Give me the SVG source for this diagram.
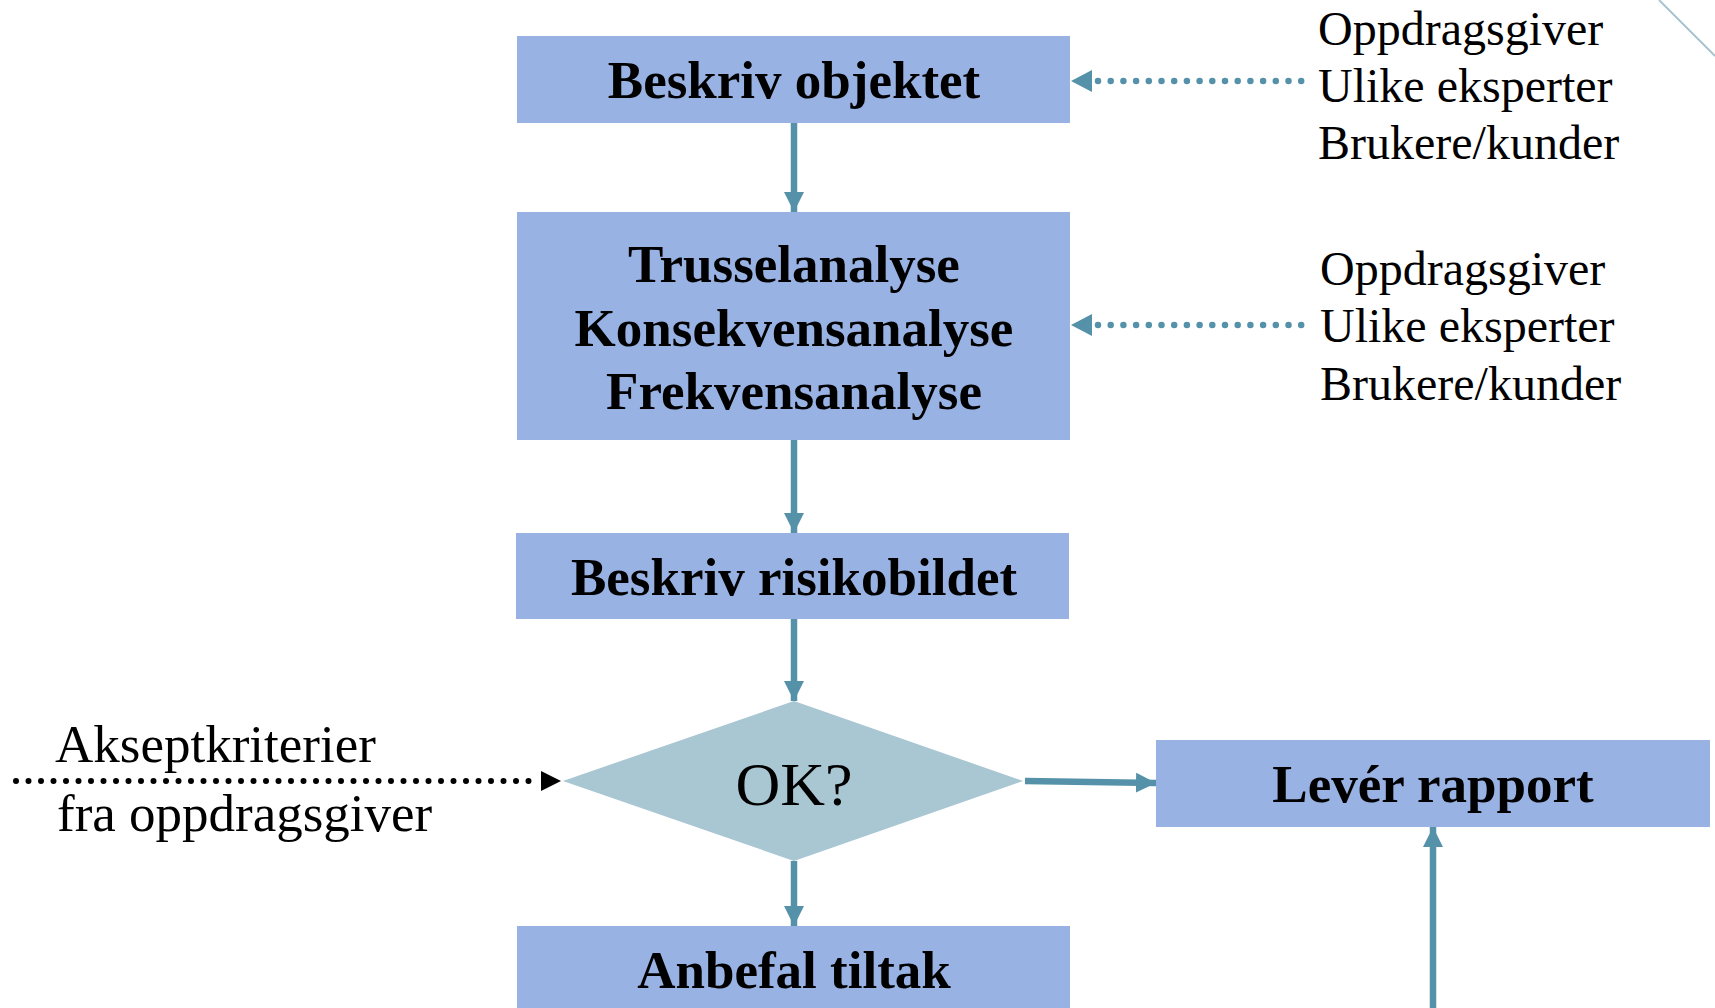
<svg xmlns="http://www.w3.org/2000/svg" width="1715" height="1008" viewBox="0 0 1715 1008">
<style>
.box{fill:#99B2E4;}
.dia{fill:#A9C6D3;}
.bt{font-family:"Liberation Serif","Times New Roman",serif;font-weight:bold;font-size:53px;fill:#000;text-anchor:middle;}
.rt{font-family:"Liberation Serif","Times New Roman",serif;font-size:48px;fill:#000;}
.lt{font-family:"Liberation Serif","Times New Roman",serif;font-size:53px;fill:#000;}
.ok{font-family:"Liberation Serif","Times New Roman",serif;font-size:62px;fill:#000;text-anchor:middle;}
.c{stroke:#5592AA;stroke-width:6.5;fill:none;}
.dot{stroke:#5592AA;stroke-width:6.5;stroke-linecap:round;stroke-dasharray:0 12.7;fill:none;}
.bdot{stroke:#000;stroke-width:6;stroke-linecap:round;stroke-dasharray:0 12.5;fill:none;}
</style>
<defs>
<marker id="ah" markerUnits="userSpaceOnUse" markerWidth="22" markerHeight="22" refX="20" refY="10" orient="auto"><path d="M0,0 L20,10 L0,20 Z" fill="#5592AA"/></marker>
</defs>
<line x1="1659" y1="0" x2="1715" y2="56" stroke="#A9C3CF" stroke-width="2"/>
<g id="n1"><rect class="box" x="517" y="36" width="553" height="87"/><text class="bt" x="794" y="98">Beskriv objektet</text></g>
<g id="n2"><rect class="box" x="517" y="212" width="553" height="228"/><text class="bt" x="794" y="282">Trusselanalyse</text><text class="bt" x="794" y="346">Konsekvensanalyse</text><text class="bt" x="794" y="409">Frekvensanalyse</text></g>
<g id="n3"><rect class="box" x="516" y="533" width="553" height="86"/><text class="bt" x="794" y="595">Beskriv risikobildet</text></g>
<g id="n4"><polygon class="dia" points="794,701 1023,781 794,861 563,781"/><text class="ok" x="794" y="805">OK?</text></g>
<g id="n5"><rect class="box" x="517" y="926" width="553" height="90"/><text class="bt" x="794" y="988">Anbefal tiltak</text></g>
<g id="n6"><rect class="box" x="1156" y="740" width="554" height="87"/><text class="bt" x="1433" y="802">Levér rapport</text></g>
<g id="src1"><text class="rt" x="1318" y="45">Oppdragsgiver</text><text class="rt" x="1318" y="102">Ulike eksperter</text><text class="rt" x="1318" y="159">Brukere/kunder</text></g>
<g id="src2"><text class="rt" x="1320" y="285">Oppdragsgiver</text><text class="rt" x="1320" y="342">Ulike eksperter</text><text class="rt" x="1320" y="400">Brukere/kunder</text></g>
<g id="src3"><text class="lt" x="55" y="762">Akseptkriterier</text><text class="lt" x="57" y="831">fra oppdragsgiver</text></g>
<g id="connectors">
<line class="c" x1="794" y1="123" x2="794" y2="212" marker-end="url(#ah)"/>
<line class="c" x1="794" y1="440" x2="794" y2="533" marker-end="url(#ah)"/>
<line class="c" x1="794" y1="619" x2="794" y2="701" marker-end="url(#ah)"/>
<line class="c" x1="794" y1="861" x2="794" y2="926" marker-end="url(#ah)"/>
<line class="c" x1="1025" y1="781" x2="1156" y2="783" marker-end="url(#ah)"/>
<line class="c" x1="1433" y1="1008" x2="1433" y2="827" marker-end="url(#ah)"/>
<line class="dot" x1="1098" y1="81" x2="1302" y2="81"/>
<polygon points="1071,81 1092,70 1092,92" fill="#5592AA"/>
<line class="dot" x1="1098" y1="325" x2="1304" y2="325"/>
<polygon points="1071,325 1092,314 1092,336" fill="#5592AA"/>
<line class="bdot" x1="16" y1="781" x2="541" y2="781"/>
<polygon points="561,781 541,771 541,791" fill="#000"/>
</g>
</svg>
